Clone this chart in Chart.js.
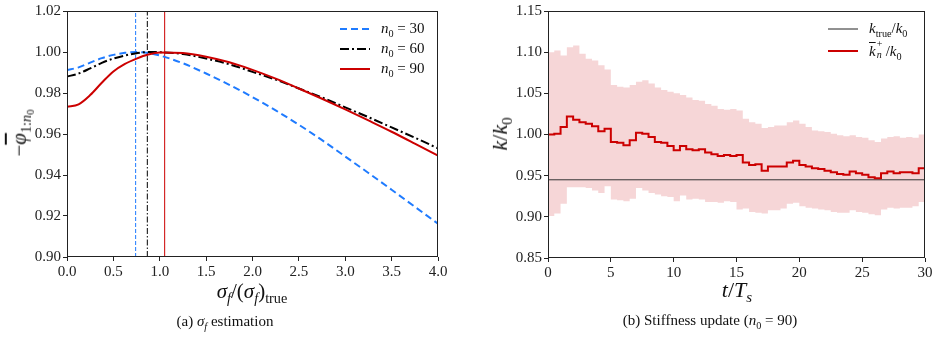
<!DOCTYPE html>
<html>
<head>
<meta charset="utf-8">
<script src="https://cdn.jsdelivr.net/npm/chart.js@4.4.0/dist/chart.umd.min.js"></script>
<style>
  body { margin: 0; background: #fff; width: 939px; height: 338px; overflow: hidden; position: relative;
         font-family: "Liberation Serif", "DejaVu Serif", serif; color: #111; }
  .panel { position: absolute; top: 0; height: 338px; }
  .lbl { position: absolute; white-space: nowrap; transform: translate(-50%, -50%); line-height: 1; }
  .rot { transform: translate(-50%, -50%) rotate(-90deg); }
  i { font-style: italic; }
  .sb { font-size: 68%; vertical-align: -0.35em; font-style: normal; }
  .legend { position: absolute; font-size: 15px; }
  .legend div { display: flex; align-items: center; height: 20px; }
  .legend svg { margin-right: 11px; }
  .stack { display: inline-block; position: relative; width: 10px; height: 1em; }
  .stack span, .stack i { position: absolute; left: 1px; font-size: 10px; line-height: 1; }
</style>
</head>
<body>
<div class="panel" style="left:0;width:450px"><canvas id="sigmaChart" width="450" height="338"></canvas></div>
<div class="panel" style="left:470px;width:469px"><canvas id="stiffChart" width="469" height="338"></canvas></div>

<!-- axis titles, legends and captions -->
<div class="lbl" style="left:252px;top:293px;font-size:21px"><i>σ</i><span class="sb"><i>f</i></span>/(<i>σ</i><span class="sb"><i>f</i></span>)<span class="sb">true</span></div>
<div class="lbl rot" style="left:22px;top:133px;font-size:21px">−<i style="text-decoration:overline">φ</i><span class="sb">1:<i>n</i><span style="font-size:75%;vertical-align:-0.25em">0</span></span></div>
<div class="lbl" style="left:737px;top:292px;font-size:22px"><i>t</i>/<i>T</i><span class="sb"><i>s</i></span></div>
<div class="lbl rot" style="left:502px;top:134px;font-size:22px"><i>k</i>/<i>k</i><span class="sb">0</span></div>
<div class="lbl" style="left:225px;top:323px;font-size:15px">(a) <i>σ</i><span class="sb"><i>f</i></span> estimation</div>
<div class="lbl" style="left:710px;top:322px;font-size:15px">(b) Stiffness update (<i>n</i><span class="sb">0</span> = 90)</div>

<div class="legend" style="left:340px;top:19px">
  <div><svg width="30" height="10"><line x1="0" y1="5" x2="30" y2="5" stroke="#1f7bff" stroke-width="2" stroke-dasharray="7,4"/></svg><span><i>n</i><span class="sb">0</span> = 30</span></div>
  <div><svg width="30" height="10"><line x1="0" y1="5" x2="30" y2="5" stroke="#000" stroke-width="2" stroke-dasharray="9,3,2,3"/></svg><span><i>n</i><span class="sb">0</span> = 60</span></div>
  <div><svg width="30" height="10"><line x1="0" y1="5" x2="30" y2="5" stroke="#cc0000" stroke-width="2"/></svg><span><i>n</i><span class="sb">0</span> = 90</span></div>
</div>
<div class="legend" style="left:828px;top:18px">
  <div style="height:22px"><svg width="30" height="10"><line x1="0" y1="5" x2="30" y2="5" stroke="#222" stroke-width="1"/></svg><span><i>k</i><span class="sb">true</span>/<i>k</i><span class="sb">0</span></span></div>
  <div style="height:22px"><svg width="30" height="10"><line x1="0" y1="5" x2="30" y2="5" stroke="#cc0000" stroke-width="2"/></svg><span><i style="text-decoration:overline">k</i><span class="stack"><span style="top:-2px">+</span><i style="top:9px">n</i></span>/<i>k</i><span class="sb">0</span></span></div>
</div>

<script>
// (a) sigma_f estimation
const sigmaGrid = [0, 0.125, 0.25, 0.375, 0.5, 0.625, 0.75, 0.875, 1.0, 1.25, 1.5, 1.75, 2.0, 2.25, 2.5, 2.75, 3.0, 3.25, 3.5, 3.75, 4.0];
const phiN30 = [0.9912, 0.9925, 0.9948, 0.9970, 0.9986, 0.9996, 1.0000, 0.9995, 0.9983, 0.9945, 0.9895, 0.9840, 0.9780, 0.9715, 0.9645, 0.9570, 0.9490, 0.9410, 0.9328, 0.9245, 0.9162];
const phiN60 = [0.9880, 0.9895, 0.9920, 0.9947, 0.9968, 0.9983, 0.9994, 1.0000, 0.9999, 0.9990, 0.9968, 0.9940, 0.9903, 0.9865, 0.9822, 0.9778, 0.9730, 0.9682, 0.9632, 0.9582, 0.9530];
const phiN90 = [0.9733, 0.9745, 0.9790, 0.9850, 0.9905, 0.9942, 0.9968, 0.9988, 0.9998, 0.9995, 0.9977, 0.9950, 0.9913, 0.9870, 0.9822, 0.9772, 0.9720, 0.9666, 0.9611, 0.9553, 0.9494];
const sigmaOpt = [0.74, 0.866, 1.053];   // n0 = 30, 60, 90
const sigmaXTicks = [0, 0.5, 1.0, 1.5, 2.0, 2.5, 3.0, 3.5, 4.0];
const phiYTicks = [0.90, 0.92, 0.94, 0.96, 0.98, 1.00, 1.02];

// (b) stiffness update, n0 = 90
const time = [0, 0.5, 1, 1.5, 2, 2.5, 3, 3.5, 4, 4.5, 5, 5.5, 6, 6.5, 7, 7.5, 8, 8.5, 9, 9.5,
  10, 10.5, 11, 11.5, 12, 12.5, 13, 13.5, 14, 14.5, 15, 15.5, 16, 16.5, 17, 17.5, 18, 18.5, 19, 19.5,
  20, 20.5, 21, 21.5, 22, 22.5, 23, 23.5, 24, 24.5, 25, 25.5, 26, 26.5, 27, 27.5, 28, 28.5, 29, 29.5, 30];
const kMean = [1.000, 1.001, 1.009, 1.022, 1.018, 1.015, 1.013, 1.010, 1.004, 1.007,
  0.991, 0.990, 0.987, 0.993, 1.002, 1.001, 0.997, 0.991, 0.990, 0.986,
  0.981, 0.986, 0.982, 0.981, 0.982, 0.978, 0.976, 0.974, 0.975, 0.974,
  0.975, 0.966, 0.963, 0.964, 0.956, 0.961, 0.961, 0.961, 0.966, 0.968,
  0.963, 0.961, 0.959, 0.958, 0.956, 0.954, 0.952, 0.951, 0.955, 0.953,
  0.951, 0.948, 0.947, 0.953, 0.955, 0.953, 0.954, 0.954, 0.953, 0.959, 0.959];
const kUpper = [1.100, 1.102, 1.096, 1.106, 1.108, 1.098, 1.092, 1.090, 1.084, 1.079,
  1.060, 1.058, 1.057, 1.060, 1.064, 1.066, 1.062, 1.057, 1.054, 1.052,
  1.050, 1.048, 1.045, 1.042, 1.041, 1.037, 1.035, 1.031, 1.030, 1.031,
  1.029, 1.019, 1.015, 1.013, 1.008, 1.009, 1.011, 1.011, 1.015, 1.017,
  1.013, 1.009, 1.005, 1.004, 1.003, 1.001, 0.999, 0.998, 0.999, 0.997,
  0.996, 0.993, 0.991, 0.995, 0.997, 0.998, 0.996, 0.997, 0.996, 1.000, 1.000];
const kLower = [0.901, 0.904, 0.916, 0.936, 0.936, 0.936, 0.935, 0.932, 0.929, 0.937,
  0.921, 0.920, 0.919, 0.922, 0.935, 0.932, 0.929, 0.927, 0.925, 0.924,
  0.919, 0.926, 0.921, 0.922, 0.921, 0.918, 0.918, 0.917, 0.919, 0.918,
  0.909, 0.910, 0.906, 0.905, 0.904, 0.908, 0.908, 0.910, 0.916, 0.917,
  0.913, 0.911, 0.910, 0.909, 0.908, 0.906, 0.905, 0.905, 0.908, 0.906,
  0.905, 0.903, 0.902, 0.909, 0.911, 0.910, 0.911, 0.911, 0.913, 0.918, 0.918];
const kTrue = 0.945;
const timeXTicks = [0, 5, 10, 15, 20, 25, 30];
const kYTicks = [0.85, 0.90, 0.95, 1.00, 1.05, 1.10, 1.15];

const BLUE = '#1f7bff', RED = '#cc0000';
const SERIF = "'Liberation Serif', 'DejaVu Serif', serif";

// box around the plot area, like matplotlib
const framePlugin = {
  id: 'frame',
  afterDatasetsDraw(chart) {
    const a = chart.chartArea, c = chart.ctx;
    c.save();
    c.strokeStyle = '#222';
    c.lineWidth = 1;
    c.strokeRect(Math.round(a.left) + 0.5, Math.round(a.top) + 0.5,
                 Math.round(a.right - a.left) - 1, Math.round(a.bottom - a.top) - 1);
    c.restore();
  }
};

function makeAxis(min, max, ticks, digits, fitKey, fitVal) {
  return {
    type: 'linear', min: min, max: max,
    afterBuildTicks: function(s) { s.ticks = ticks.map(v => ({ value: v })); },
    afterFit: function(s) { s[fitKey] = fitVal; },
    ticks: {
      callback: v => v.toFixed(digits),
      font: { family: SERIF, size: 15 },
      color: '#222', padding: 2, maxRotation: 0, autoSkip: false
    },
    grid: { drawOnChartArea: false, drawTicks: true, tickLength: 4, color: '#222' },
    border: { display: false }
  };
}

function xy(xs, ys) {
  return xs.map((x, i) => ({ x: x, y: ys[i] }));
}

function vline(x, y0, y1) {
  return [{ x: x, y: y0 }, { x: x, y: y1 }];
}

function initSigmaChart() {
  const yMin = phiYTicks[0], yMax = phiYTicks[phiYTicks.length - 1];
  new Chart(document.getElementById('sigmaChart'), {
    type: 'line',
    data: {
      datasets: [
        { data: xy(sigmaGrid, phiN90), borderColor: RED, borderWidth: 2, cubicInterpolationMode: 'monotone' },
        { data: xy(sigmaGrid, phiN60), borderColor: '#000', borderWidth: 2, borderDash: [9, 3, 2, 3], cubicInterpolationMode: 'monotone' },
        { data: xy(sigmaGrid, phiN30), borderColor: BLUE, borderWidth: 2, borderDash: [7, 4], cubicInterpolationMode: 'monotone' },
        { data: vline(sigmaOpt[0], yMin, yMax), borderColor: BLUE, borderWidth: 1, borderDash: [4, 2] },
        { data: vline(sigmaOpt[1], yMin, yMax), borderColor: '#000', borderWidth: 1, borderDash: [6, 2, 1.5, 2] },
        { data: vline(sigmaOpt[2], yMin, yMax), borderColor: RED, borderWidth: 1 }
      ]
    },
    options: {
      responsive: false, animation: false, events: [],
      elements: { point: { radius: 0 } },
      layout: { padding: { left: 0, right: 12, top: 11, bottom: 0 } },
      scales: {
        x: makeAxis(0, 4, sigmaXTicks, 1, 'height', 81),
        y: makeAxis(yMin, yMax, phiYTicks, 2, 'width', 67)
      },
      plugins: { legend: { display: false }, tooltip: { enabled: false } }
    },
    plugins: [framePlugin]
  });
}

function initStiffChart() {
  new Chart(document.getElementById('stiffChart'), {
    type: 'line',
    data: {
      datasets: [
        { data: xy(time, kMean), borderColor: RED, borderWidth: 2, stepped: true, fill: false },
        { data: [{ x: time[0], y: kTrue }, { x: time[time.length - 1], y: kTrue }], borderColor: '#333', borderWidth: 1, fill: false },
        { data: xy(time, kUpper), borderWidth: 0, borderColor: 'rgba(0,0,0,0)', backgroundColor: '#f6d6d7', stepped: true, fill: 3 },
        { data: xy(time, kLower), borderWidth: 0, borderColor: 'rgba(0,0,0,0)', stepped: true, fill: false }
      ]
    },
    options: {
      responsive: false, animation: false, events: [],
      elements: { point: { radius: 0 } },
      layout: { padding: { left: 0, right: 14, top: 11, bottom: 0 } },
      scales: {
        x: makeAxis(0, 30, timeXTicks, 0, 'height', 80),
        y: makeAxis(0.85, 1.15, kYTicks, 2, 'width', 78)
      },
      plugins: { legend: { display: false }, tooltip: { enabled: false } }
    },
    plugins: [framePlugin]
  });
}

document.addEventListener('DOMContentLoaded', function() {
  initSigmaChart();
  initStiffChart();
});
</script>
</body>
</html>
